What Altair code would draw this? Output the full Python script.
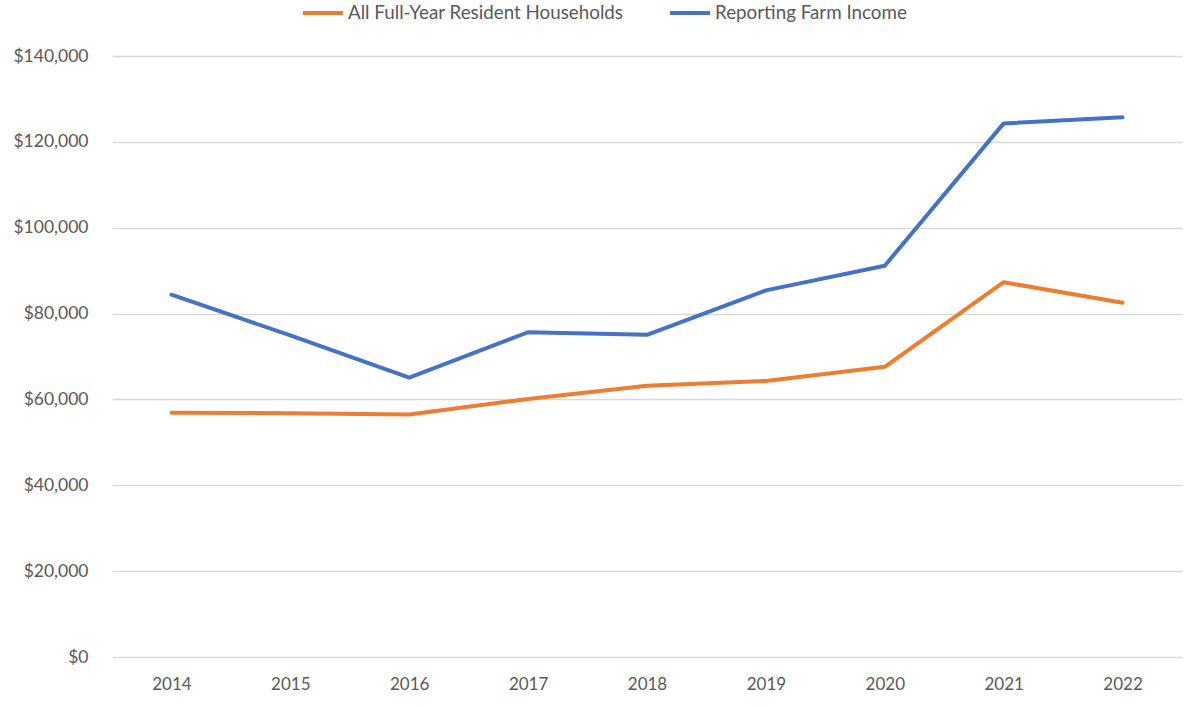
import altair as alt
import pandas as pd

years = ["2014", "2015", "2016", "2017", "2018", "2019", "2020", "2021", "2022"]
all_households = [56900, 56800, 56500, 60100, 63200, 64300, 67600, 87300, 82500]
farm_income = [84400, 74900, 65100, 75650, 75050, 85400, 91150, 124300, 125750]
series_names = ["All Full-Year Resident Households", "Reporting Farm Income"]
series_colors = ["#ED7D31", "#4472C4"]

rows = []
for i, y in enumerate(years):
    rows.append({"year": y, "series": series_names[0], "value": all_households[i], "ord": 0})
    rows.append({"year": y, "series": series_names[1], "value": farm_income[i], "ord": 1})
df = pd.DataFrame(rows)

font = "Lato"
gray = "#595959"

chart = alt.Chart(df).mark_line(strokeWidth=4, strokeCap="round", strokeJoin="round").encode(
    x=alt.X("year:N", sort=years, title=None,
            scale=alt.Scale(type="point", padding=0.5),
            axis=alt.Axis(labelAngle=0, ticks=False, domain=False, labelPadding=19,
                          labelFontSize=17, labelColor=gray, labelFont=font, grid=False)),
    y=alt.Y("value:Q", title=None,
            scale=alt.Scale(domain=[0, 140000], nice=False),
            axis=alt.Axis(values=list(range(0, 140001, 20000)), format="$,.0f",
                          ticks=False, domain=False, labelPadding=24,
                          labelFontSize=17.5, labelColor=gray, labelFont=font,
                          grid=True, gridColor="#D9D9D9", gridWidth=1.5)),
    color=alt.Color("series:N", title=None,
                    scale=alt.Scale(domain=series_names, range=series_colors),
                    legend=alt.Legend(orient="none", legendX=189, legendY=-65,
                                      direction="horizontal", symbolType="stroke",
                                      symbolSize=1600, symbolStrokeWidth=4,
                                      labelFontSize=18.8, labelColor=gray, labelFont=font,
                                      labelLimit=500, columnPadding=38, labelOffset=3)),
    detail="series:N",
    order="ord:Q",
).properties(
    width=1070, height=601,
    padding={"left": 112, "top": 56, "right": 13, "bottom": 50},
    autosize=alt.AutoSizeParams(type="none"),
    background="white",
).configure_view(stroke=None, strokeWidth=0)

chart.save("out.html", embed_options={"renderer": "svg", "actions": False})
